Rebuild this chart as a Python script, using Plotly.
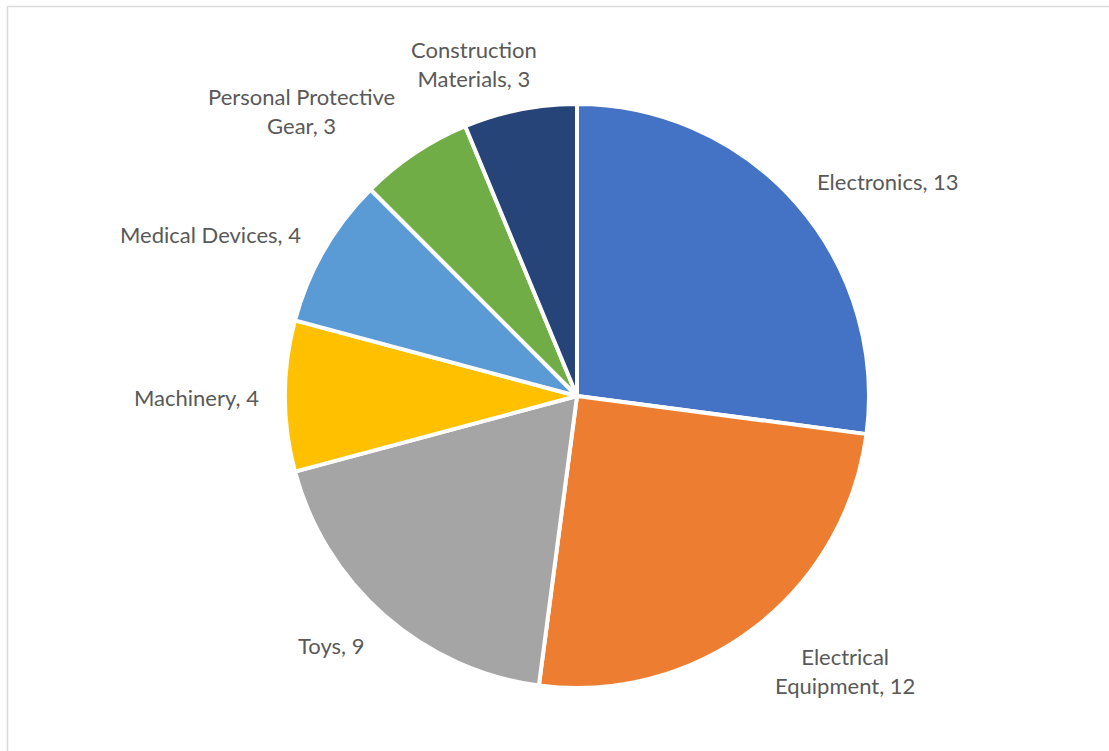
import plotly.graph_objects as go

# Product categories and their counts
categories = [
    "Electronics",
    "Electrical Equipment",
    "Toys",
    "Machinery",
    "Medical Devices",
    "Personal Protective Gear",
    "Construction Materials",
]
counts = [13, 12, 9, 4, 4, 3, 3]

# Label text as shown (with line breaks) — same order as categories
label_lines = [
    "Electronics, {v}",
    "Electrical<br>Equipment, {v}",
    "Toys, {v}",
    "Machinery, {v}",
    "Medical Devices, {v}",
    "Personal Protective<br>Gear, {v}",
    "Construction<br>Materials, {v}",
]

colors = ["#4472C4", "#ED7D31", "#A5A5A5", "#FFC000", "#5B9BD5", "#70AD47", "#264478"]

W, H = 1109, 751
cx, cy, r = 577, 396, 292  # pie centre and radius in px
edge_w = 4  # white separator width

# Label centre positions in px (layout only)
label_pos = [
    (888, 181),
    (845, 671),
    (331, 645),
    (196, 397),
    (210, 234),
    (301, 111),
    (474, 64),
]

fig = go.Figure(
    go.Pie(
        labels=categories,
        values=counts,
        sort=False,
        direction="clockwise",
        rotation=0,
        marker=dict(colors=colors, line=dict(color="white", width=edge_w)),
        textinfo="none",
        hoverinfo="label+value",
        domain=dict(
            x=[(cx - r) / W, (cx + r) / W],
            y=[1 - (cy + r) / H, 1 - (cy - r) / H],
        ),
        showlegend=False,
    )
)

for txt, v, (px, py) in zip(label_lines, counts, label_pos):
    fig.add_annotation(
        x=px / W,
        y=1 - py / H,
        xref="paper",
        yref="paper",
        text=txt.format(v=v),
        showarrow=False,
        xanchor="center",
        yanchor="middle",
        align="center",
        font=dict(family="Lato, 'Open Sans', sans-serif", size=22, color="#595959"),
    )

# Chart-area border
fig.add_shape(
    type="rect",
    xref="paper",
    yref="paper",
    x0=7.5 / W,
    y0=-0.02,
    x1=1.02,
    y1=1 - 6.5 / H,
    line=dict(color="#D9D9D9", width=1.5),
    fillcolor="rgba(0,0,0,0)",
)

fig.update_layout(
    width=W,
    height=H,
    margin=dict(l=0, r=0, t=0, b=0),
    paper_bgcolor="white",
    plot_bgcolor="white",
)

fig.write_html("out.html")
